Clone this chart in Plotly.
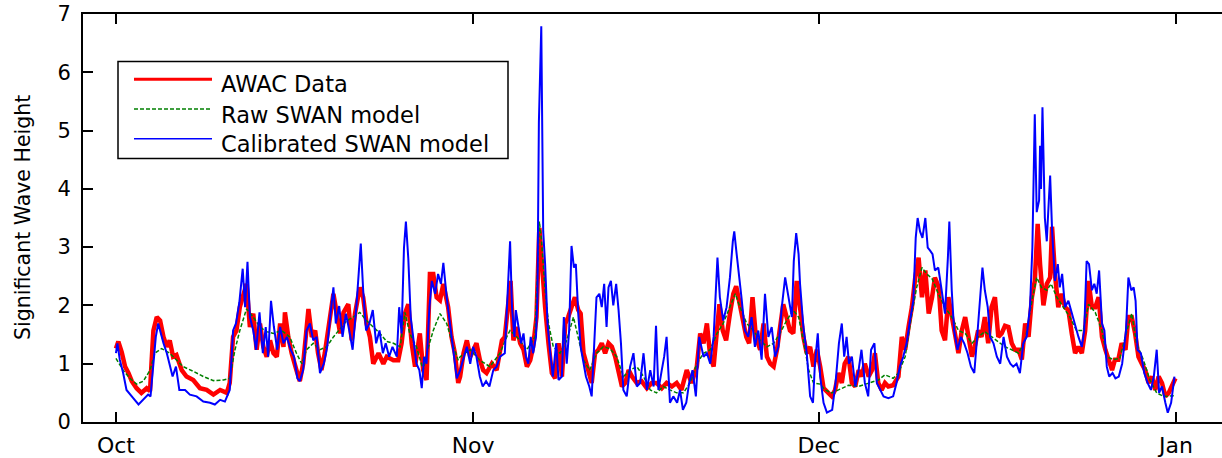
import pandas as pd
import plotly.graph_objects as go

# Hourly offsets from the start of the record (2013-10-01 00:00) and significant wave height (m)
START = pd.Timestamp("2013-10-01")
MONTH_TICKS = ["2013-10-01", "2013-11-01", "2013-12-01", "2014-01-01"]
MONTH_LABELS = ["Oct", "Nov", "Dec", "Jan"]
Y_TICKS = [0, 1, 2, 3, 4, 5, 6, 7]

AWAC_HOURS = [
    0, 5, 12, 19, 26, 33, 43, 53, 64, 71, 74, 78, 85, 92, 99, 106, 112, 119, 126, 137,
    147, 161, 175, 189, 203, 217, 231, 237, 244, 251, 258, 265, 272, 279, 286, 293, 300, 307, 314, 321,
    328, 335, 342, 349, 352, 359, 366, 376, 383, 390, 397, 401, 408, 415, 421, 428, 435, 446, 453, 460,
    467, 474, 484, 491, 498, 508, 515, 522, 529, 536, 547, 557, 564, 578, 588, 595, 602, 609, 616, 623,
    633, 640, 647, 654, 661, 668, 675, 682, 692, 699, 706, 713,
    717, 724, 731, 738, 744, 751, 758, 765, 772, 783, 793, 804, 810, 817, 822, 828, 835, 842, 849, 856,
    863, 869, 876, 882, 886, 894, 901, 908, 915, 922, 929, 936, 942, 949, 956, 963, 968, 974, 981, 991,
    998, 1005, 1012, 1019, 1026, 1033, 1040, 1047, 1054, 1061, 1068, 1075, 1085, 1095, 1106, 1116, 1126, 1137, 1147, 1158,
    1168, 1178, 1189, 1199, 1210, 1217, 1224, 1231, 1238, 1245, 1252, 1257, 1264, 1271, 1279, 1286, 1292, 1299, 1306, 1313,
    1319, 1326, 1333, 1342, 1349, 1356, 1363, 1370, 1377, 1383, 1390, 1397, 1404, 1411, 1418, 1425, 1432, 1439, 1446, 1453,
    1460, 1467, 1474,
    1491, 1498, 1505, 1512, 1518, 1526, 1533, 1540, 1547, 1553, 1560, 1568, 1575, 1581, 1588, 1595, 1602, 1609, 1619, 1630,
    1637, 1644, 1651, 1658, 1665, 1672, 1679, 1686, 1693, 1700, 1706, 1714, 1720, 1727, 1734, 1741, 1748, 1755, 1762, 1769,
    1776, 1783, 1789, 1796, 1803, 1810, 1817, 1824, 1831, 1838, 1845, 1852, 1859, 1866, 1873, 1880, 1887, 1894, 1901, 1908,
    1914, 1920, 1925, 1932, 1939, 1946, 1950, 1956, 1963, 1970, 1977, 1984, 1991, 1998, 2005, 2012, 2019, 2026, 2033, 2040,
    2047, 2054, 2061, 2068, 2075, 2081, 2088, 2095, 2103, 2109, 2116, 2123, 2130, 2137, 2144, 2151, 2158, 2165, 2172, 2179,
    2186, 2193, 2200, 2207,
]
AWAC_HS = [
    1.26, 1.38, 1.20, 0.95, 0.84, 0.70, 0.58, 0.50, 0.58, 0.53, 1.00, 1.57, 1.80, 1.74, 1.46, 1.29, 1.40, 1.12, 1.15, 0.89,
    0.78, 0.72, 0.58, 0.55, 0.47, 0.55, 0.50, 0.67, 1.46, 1.57, 1.97, 2.20, 2.37, 1.63, 1.86, 1.24, 1.69, 1.29, 1.12, 1.40,
    1.18, 1.12, 1.69, 1.29, 1.88, 1.46, 1.18, 0.89, 0.70, 1.00, 1.69, 1.94, 1.46, 1.57, 1.18, 0.89, 1.18, 1.86, 2.20, 1.86,
    1.52, 1.88, 2.02, 1.40, 1.86, 2.31, 2.14, 1.69, 1.46, 1.00, 1.18, 1.00, 1.12, 1.06, 1.06, 1.35, 1.86, 2.02, 1.35, 0.95,
    1.52, 0.89, 0.72, 2.54, 2.54, 2.14, 2.09, 2.37, 1.97, 1.46, 1.18, 0.67,
    0.78, 1.18, 1.40, 1.12, 1.24, 1.35, 1.07, 0.89, 0.84, 1.00, 0.89, 1.40, 1.46, 2.14, 2.42, 1.40, 1.63, 1.35, 1.24, 0.95,
    1.06, 1.29, 1.80, 3.33, 2.82, 1.97, 1.35, 0.84, 0.75, 1.35, 0.78, 1.69, 1.80, 1.97, 2.14, 1.92, 1.86, 1.18, 0.95, 0.67,
    1.18, 1.24, 1.35, 1.18, 1.35, 1.29, 1.12, 0.89, 0.61, 0.67, 0.89, 0.78, 0.67, 0.70, 0.58, 0.67, 0.67, 0.58, 0.67, 0.61,
    0.67, 0.55, 0.89, 0.67, 0.95, 1.52, 1.35, 1.69, 1.12, 0.95, 1.69, 2.02, 1.57, 1.40, 1.86, 2.20, 2.33, 2.02, 1.74, 1.46,
    1.35, 2.14, 1.46, 1.24, 1.69, 1.12, 1.00, 0.95, 1.24, 1.57, 2.02, 1.80, 1.57, 1.52, 2.42, 1.97, 1.46, 1.18, 1.29, 0.95,
    1.24, 0.95, 0.58,
    0.44, 0.55, 0.84, 0.67, 1.00, 1.12, 0.67, 0.61, 0.89, 0.78, 1.00, 0.78, 0.89, 1.18, 0.67, 0.55, 0.67, 0.61, 0.63, 0.78,
    1.46, 1.24, 1.63, 1.97, 2.48, 2.82, 2.14, 2.60, 1.86, 2.14, 2.48, 2.31, 1.57, 1.40, 2.14, 1.80, 1.52, 1.18, 1.57, 1.80,
    1.46, 1.12, 1.29, 1.57, 1.46, 1.80, 1.35, 1.97, 2.14, 1.46, 1.52, 1.65, 1.63, 1.35, 1.24, 1.24, 1.07, 1.69, 1.46, 2.14,
    2.42, 3.40, 2.71, 2.00, 2.37, 2.48, 3.35, 2.54, 1.97, 2.20, 1.97, 1.92, 1.52, 1.18, 1.29, 1.18, 1.57, 2.42, 1.97, 1.97,
    2.14, 1.46, 1.24, 1.07, 0.89, 1.07, 1.07, 1.35, 1.24, 1.80, 1.80, 1.52, 1.12, 1.00, 0.89, 0.67, 0.78, 0.55, 0.78, 0.67,
    0.44, 0.50, 0.61, 0.75,
]

RAW_HOURS = [
    0, 15, 29, 43, 57, 71, 81, 95, 112, 126, 140, 161, 182, 203, 224, 237, 248, 258, 272, 286,
    300, 314, 328, 345, 362, 376, 387, 397, 411, 425, 439, 453, 467, 481, 494, 508, 522, 536, 550, 564,
    578, 592, 602, 612, 626, 640, 651, 661, 675, 689, 703, 713,
    717, 738, 758, 779, 800, 814, 821, 835, 856, 873, 882, 886, 894, 901, 911, 925, 939, 953, 963, 974,
    987, 1001, 1015, 1029, 1043, 1057, 1071, 1085, 1099, 1113, 1126, 1140, 1154, 1168, 1182, 1196, 1210, 1224, 1238, 1252,
    1265, 1279, 1290, 1300, 1314, 1328, 1342, 1356, 1370, 1383, 1397, 1411, 1422, 1432, 1443, 1453, 1467,
    1477, 1491, 1505, 1526, 1547, 1568, 1588, 1602, 1619, 1630, 1644, 1658, 1668, 1679, 1689, 1700, 1713, 1727, 1741, 1755,
    1769, 1783, 1796, 1810, 1824, 1838, 1852, 1866, 1880, 1894, 1908, 1918, 1928, 1939, 1948, 1960, 1973, 1987, 2001, 2015,
    2026, 2040, 2054, 2064, 2078, 2091, 2106, 2116, 2126, 2140, 2154, 2168, 2182, 2196, 2207,
]
RAW_HS = [
    1.09, 0.89, 0.75, 0.65, 0.70, 0.89, 1.18, 1.26, 1.18, 1.06, 0.95, 0.87, 0.78, 0.71, 0.72, 0.75, 1.24, 1.57, 1.94, 1.80,
    1.63, 1.55, 1.52, 1.57, 1.46, 1.18, 1.00, 1.24, 1.35, 1.24, 1.29, 1.46, 1.60, 1.74, 1.80, 1.88, 1.74, 1.63, 1.52, 1.38,
    1.35, 1.29, 1.88, 1.52, 1.29, 0.89, 1.29, 1.57, 1.86, 1.69, 1.29, 1.06,
    1.12, 1.24, 1.06, 0.95, 1.18, 1.46, 1.57, 1.46, 1.24, 1.46, 3.44, 3.16, 2.26, 1.69, 1.29, 1.18, 1.40, 1.80, 1.46, 1.06,
    0.89, 1.18, 1.29, 1.26, 1.12, 0.78, 0.89, 0.95, 0.78, 0.55, 0.50, 0.61, 0.55, 0.50, 0.50, 0.67, 1.00, 1.18, 1.24, 1.52,
    1.69, 1.97, 2.20, 1.97, 1.69, 1.57, 1.40, 1.29, 1.35, 1.52, 1.74, 1.92, 1.80, 1.40, 0.89, 0.67, 0.65,
    0.55, 0.50, 0.55, 0.63, 0.61, 0.67, 0.72, 0.81, 0.75, 0.84, 1.12, 1.86, 2.31, 2.65, 2.54, 2.46, 2.20, 1.97, 1.80, 1.57,
    1.52, 1.35, 1.46, 1.55, 1.46, 1.38, 1.29, 1.24, 1.18, 1.40, 2.08, 2.48, 2.31, 2.26, 2.37, 2.14, 1.97, 1.80, 1.57, 1.57,
    2.02, 1.88, 1.57, 1.12, 1.07, 1.09, 1.57, 1.86, 1.35, 1.07, 0.72, 0.50, 0.44, 0.44, 0.45,
]

CAL_HOURS = [
    0, 3, 8, 15, 22, 29, 36, 47, 57, 67, 72, 78, 83, 88, 93, 99, 106, 112, 118, 125,
    132, 144, 154, 168, 182, 196, 206, 217, 227, 237, 244, 250, 257, 264, 269, 274, 279, 286, 292, 299,
    306, 312, 317, 323, 329, 336, 342, 349, 356, 364, 371, 378, 383, 390, 397, 404, 411, 418, 425, 433,
    440, 447, 453, 458, 465, 472, 479, 486, 493, 501, 510, 515, 521, 528, 535, 542, 549, 556, 562, 569,
    576, 585, 590, 595, 600, 604, 609, 614, 621, 626, 632, 637, 642, 647, 653, 658, 665, 671, 677, 682,
    689, 696, 703, 710,
    717, 724, 731, 738, 744, 751, 758, 764, 771, 778, 786, 793, 800, 810, 815, 821, 825, 830, 833, 838,
    844, 849, 854, 859, 864, 869, 875, 878, 881, 886, 890, 894, 899, 904, 910, 917, 922, 929, 933, 939,
    944, 949, 954, 958, 963, 968, 974, 979, 986, 991, 996, 1001, 1007, 1012, 1017, 1022, 1026, 1031, 1036, 1042,
    1047, 1052, 1057, 1064, 1071, 1078, 1085, 1092, 1099, 1106, 1113, 1120, 1125, 1130, 1137, 1142, 1147, 1154, 1161, 1169,
    1175, 1181, 1188, 1194, 1201, 1208, 1215, 1224, 1231, 1238, 1245, 1253, 1258, 1265, 1272, 1279, 1285, 1288, 1293, 1299,
    1303, 1310, 1317, 1324, 1331, 1338, 1345, 1352, 1359, 1366, 1373, 1380, 1387, 1394, 1401, 1408, 1412, 1417, 1422, 1425,
    1432, 1439, 1446, 1452, 1456, 1462, 1467, 1474, 1481,
    1492, 1499, 1506, 1512, 1517, 1522, 1527, 1533, 1540, 1547, 1553, 1560, 1567, 1573, 1580, 1585, 1592, 1599, 1609, 1619,
    1626, 1633, 1640, 1647, 1654, 1661, 1666, 1670, 1675, 1680, 1686, 1691, 1696, 1701, 1706, 1713, 1720, 1727, 1733, 1736,
    1741, 1746, 1753, 1760, 1767, 1774, 1781, 1788, 1795, 1800, 1805, 1810, 1816, 1821, 1828, 1835, 1842, 1849, 1856, 1863,
    1869, 1876, 1883, 1890, 1897, 1904, 1909, 1914, 1918, 1923, 1925, 1927, 1930, 1935, 1939, 1942, 1946, 1950, 1956, 1962,
    1966, 1971, 1977, 1984, 1991, 1998, 2005, 2012, 2017, 2022, 2027, 2033, 2038, 2043, 2048, 2054, 2059, 2064, 2069, 2076,
    2082, 2089, 2096, 2104, 2109, 2115, 2120, 2124, 2128, 2135, 2142, 2149, 2156, 2162, 2168, 2173, 2179, 2186, 2191, 2198,
    2205,
]
CAL_HS = [
    1.18, 1.35, 1.07, 0.84, 0.55, 0.47, 0.41, 0.30, 0.38, 0.47, 0.44, 1.07, 1.46, 1.69, 1.52, 1.35, 1.18, 1.00, 0.78, 0.95,
    0.55, 0.55, 0.47, 0.44, 0.35, 0.33, 0.30, 0.38, 0.35, 0.55, 1.57, 1.69, 2.05, 2.63, 1.97, 2.75, 1.80, 1.57, 1.24, 1.88,
    1.18, 1.63, 1.12, 2.08, 1.63, 1.24, 1.63, 1.35, 1.46, 1.24, 1.12, 0.75, 0.70, 0.89, 1.57, 1.69, 1.40, 1.46, 0.84, 1.00,
    1.29, 1.86, 2.31, 1.69, 1.99, 1.46, 1.86, 1.57, 1.24, 2.00, 3.06, 2.26, 1.57, 1.69, 1.92, 1.35, 1.57, 1.18, 1.35, 1.12,
    1.29, 1.12, 1.97, 1.52, 2.99, 3.44, 2.80, 1.80, 1.35, 1.00, 0.89, 0.58, 1.12, 1.00, 1.97, 2.42, 2.20, 2.54, 2.37, 2.73,
    2.14, 1.69, 1.29, 0.75,
    0.89, 1.07, 1.29, 1.00, 1.29, 1.12, 0.78, 0.61, 0.70, 0.61, 0.89, 0.95, 1.12, 1.18, 2.08, 3.10, 1.97, 1.46, 1.92, 1.63,
    1.35, 1.52, 1.12, 1.00, 1.46, 1.18, 1.46, 2.14, 5.14, 6.79, 3.27, 2.71, 1.69, 1.24, 0.78, 1.35, 0.72, 0.78, 1.80, 1.00,
    1.57, 3.02, 2.65, 2.71, 1.86, 1.29, 1.00, 0.78, 0.61, 0.44, 1.29, 2.14, 2.20, 1.97, 2.37, 1.63, 2.31, 2.42, 2.00, 2.37,
    1.92, 1.35, 0.55, 0.44, 0.95, 1.18, 0.61, 0.67, 1.18, 0.55, 0.89, 0.61, 1.65, 0.55, 0.89, 1.12, 1.46, 0.33, 0.44, 0.33,
    0.55, 0.21, 0.33, 0.67, 0.89, 0.44, 1.46, 1.12, 1.18, 1.00, 1.46, 2.82, 2.14, 1.74, 1.97, 2.48, 3.10, 3.27, 2.88, 2.48,
    2.14, 1.57, 1.46, 1.80, 1.29, 1.57, 1.07, 2.20, 1.46, 1.63, 1.12, 1.29, 1.97, 2.48, 2.14, 1.80, 2.76, 3.24, 2.88, 2.37,
    1.63, 1.18, 0.44, 0.33, 1.00, 1.52, 0.78, 0.33, 0.16,
    0.21, 0.67, 1.35, 1.69, 1.12, 1.46, 1.00, 1.12, 0.61, 0.89, 1.24, 0.67, 0.44, 1.24, 1.35, 0.67, 0.55, 0.44, 0.41, 0.44,
    0.67, 0.95, 1.12, 1.35, 1.74, 2.08, 3.16, 3.50, 3.27, 3.16, 3.50, 2.99, 2.94, 2.88, 2.60, 2.65, 2.26, 1.86, 2.82, 3.44,
    2.26, 1.57, 1.24, 1.46, 1.35, 1.18, 0.95, 0.84, 1.57, 2.14, 2.65, 2.26, 1.97, 1.46, 1.35, 1.12, 1.00, 1.46, 1.12, 1.00,
    0.95, 1.00, 0.84, 1.35, 1.46, 1.97, 2.99, 5.28, 3.60, 3.80, 4.74, 4.00, 5.40, 3.50, 3.10, 3.60, 4.23, 3.30, 2.42, 2.71,
    2.31, 2.54, 1.97, 2.08, 1.86, 1.63, 1.46, 1.29, 1.57, 2.76, 2.71, 2.26, 2.37, 2.20, 2.60, 1.69, 1.57, 0.95, 0.78, 0.84,
    0.75, 0.78, 1.00, 1.57, 2.48, 2.26, 2.31, 2.08, 1.24, 1.18, 0.84, 0.67, 0.55, 0.78, 1.24, 0.50, 0.61, 0.33, 0.16, 0.33,
    0.78,
]

# Canvas geometry (px) of the plotting box
W, H = 1222, 458
LEFT, RIGHT, TOP, BOTTOM = 83, 1222, 14, 426
FONT = "DejaVu Sans"


def to_time(hours):
    return START + pd.to_timedelta(hours, unit="h")


def px_x(px):
    return (px - LEFT) / (RIGHT - LEFT)


def px_y(py):
    return (BOTTOM - py) / (BOTTOM - TOP)


fig = go.Figure()
fig.add_trace(go.Scatter(
    x=to_time(AWAC_HOURS), y=AWAC_HS, mode="lines", name="AWAC Data",
    line=dict(color="#ff0000", width=4.5), showlegend=False,
))
fig.add_trace(go.Scatter(
    x=to_time(RAW_HOURS), y=RAW_HS, mode="lines", name="Raw SWAN model",
    line=dict(color="#008000", width=1.5, dash="4px,2px"), showlegend=False,
))
fig.add_trace(go.Scatter(
    x=to_time(CAL_HOURS), y=CAL_HS, mode="lines", name="Calibrated SWAN model",
    line=dict(color="#0000ff", width=2), showlegend=False,
))

# Boxed legend in the upper-left corner of the axes
legend_rows = [
    ("AWAC Data", dict(color="#ff0000", width=3), 80, 85),
    ("Raw SWAN model", dict(color="#008000", width=1.5, dash="4px,2px"), 110, 116),
    ("Calibrated SWAN model", dict(color="#0000ff", width=1.5), 140, 145),
]
shapes = [dict(
    type="rect", xref="paper", yref="paper", layer="above",
    x0=px_x(118), x1=px_x(508), y0=px_y(160), y1=px_y(62),
    line=dict(color="black", width=1.5), fillcolor="white",
)]
annotations = []
for label, style, line_y, text_y in legend_rows:
    shapes.append(dict(
        type="line", xref="paper", yref="paper", layer="above",
        x0=px_x(134), x1=px_x(212), y0=px_y(line_y), y1=px_y(line_y), line=style,
    ))
    annotations.append(dict(
        text=label, xref="paper", yref="paper", x=px_x(219), y=px_y(text_y),
        xanchor="left", yanchor="middle", showarrow=False,
        font=dict(family=FONT, size=22.5, color="black"),
    ))

annotations.append(dict(
    text="Significant Wave Height", xref="paper", yref="paper",
    x=px_x(23), y=0.5, xanchor="center", yanchor="middle", textangle=-90,
    showarrow=False, font=dict(family=FONT, size=20.5, color="black"),
))

x_start = START - pd.Timedelta(days=2.86)
x_end = START + pd.Timedelta(days=96.0)

fig.update_layout(
    width=W, height=H,
    margin=dict(l=LEFT, r=W - RIGHT, t=TOP, b=H - BOTTOM),
    paper_bgcolor="white", plot_bgcolor="white",
    font=dict(family=FONT, size=20, color="black"),
    shapes=shapes, annotations=annotations,
    xaxis=dict(
        type="date", range=[x_start, x_end],
        tickvals=MONTH_TICKS, ticktext=MONTH_LABELS,
        showline=True, linecolor="black", linewidth=2, mirror="ticks",
        ticks="inside", ticklen=10, tickwidth=1.5, tickcolor="black",
        showgrid=False, zeroline=False, ticklabelstandoff=3,
        tickfont=dict(family=FONT, size=22, color="black"),
    ),
    yaxis=dict(
        range=[0, 7], tickvals=Y_TICKS,
        showline=True, linecolor="black", linewidth=2, mirror=False,
        ticks="inside", ticklen=10, tickwidth=1.5, tickcolor="black",
        showgrid=False, zeroline=False, ticklabelstandoff=6,
        tickfont=dict(family=FONT, size=21, color="black"),
    ),
    yaxis2=dict(
        overlaying="y", side="right", anchor="x", range=[0, 7], tickvals=Y_TICKS,
        ticks="inside", ticklen=4, tickwidth=1.5, tickcolor="black",
        showticklabels=False, showline=False, showgrid=False, zeroline=False,
    ),
    showlegend=False,
)

fig.write_html("out.html")
